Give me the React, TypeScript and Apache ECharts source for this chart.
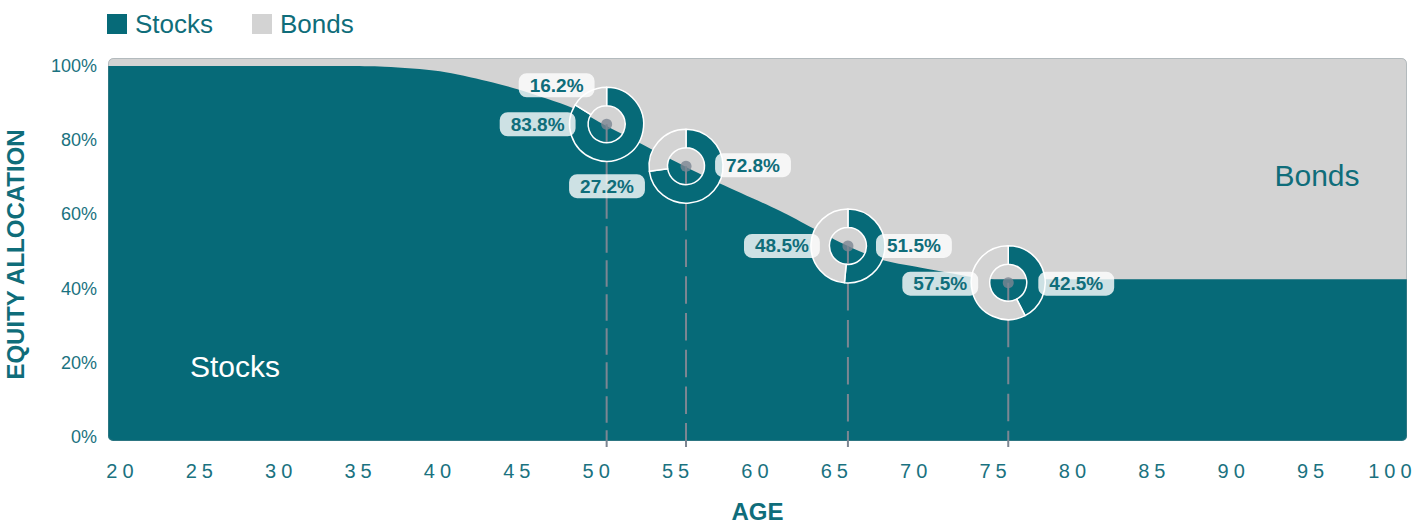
import React, { useEffect, useRef } from 'react';
import * as echarts from 'echarts';

// Glide path: age -> equity (stocks) allocation in %
const ages = [19, 20, 25, 30, 34, 36.5, 40, 43, 45, 48.4, 50.5, 53, 55.5, 57.6, 61.4, 63.5, 65.7, 67.8, 70, 72, 74.6, 76, 80, 90, 101];
const stocks = [100, 100, 100, 100, 100, 99.8, 98.6, 95.9, 93.6, 88.6, 83.8, 78.3, 72.8, 68.4, 61.0, 56.3, 51.5, 47.8, 45.9, 44.3, 42.6, 42.5, 42.5, 42.5, 42.5];
const bonds = stocks.map((s) => +(100 - s).toFixed(1));

const xTickValues = [20, 25, 30, 35, 40, 45, 50, 55, 60, 65, 70, 75, 80, 85, 90, 95, 100];
const yTickValues = [0, 20, 40, 60, 80, 100];

// Donut snapshots
const pieAges = [50.5, 55.5, 65.7, 75.8];
const pieCenterValues = [84.3, 73.0, 51.5, 41.6];
const pieStocks = [83.8, 72.8, 51.5, 42.5];
const pieBonds = [16.2, 27.2, 48.5, 57.5];
const dropLineBottom = -2.7;

// layout only (pixel offsets of the value tags from the donut centre)
const stockTagOffsets = [[-69, 0], [67, -1], [66, 0], [68, 1]];
const bondTagOffsets = [[-50, -39], [-79, 20], [-66, 0], [-68, 1]];
const dashPatterns = [[26.5, 7.5], [27.5, 9.2], [27.5, 9.5], [27.5, 9.5]];

const TEAL = '#066a78';
const GRAY = '#d3d3d3';
const TEXT = '#0f6d7a';
const AXIS_TXT = '#1a7280';
const LINE_GRAY = '#7c8692';
const FONT = 'Liberation Sans, Arial, sans-serif';

const GRID = { left: 108, top: 58, width: 1299, height: 383 };

export default function App() {
  const ref = useRef<HTMLDivElement>(null);
  useEffect(() => {
    const chart = echarts.init(ref.current!, null, { renderer: 'svg' });
    const base: any = {
      animation: false,
      textStyle: { fontFamily: FONT },
      legend: {
        data: ['Stocks', 'Bonds'],
        left: 107,
        top: 11,
        padding: 0,
        itemWidth: 20,
        itemHeight: 20,
        itemGap: 39,
        icon: 'rect',
        selectedMode: false,
        textStyle: { fontSize: 26, color: TEXT, fontFamily: FONT, padding: [0, 0, 0, 3] },
      },
      grid: {
        left: GRID.left,
        top: GRID.top,
        width: GRID.width,
        height: GRID.height,
        containLabel: false,
        outerBoundsMode: 'none',
      },
      xAxis: {
        type: 'value',
        min: 19.087,
        max: 100.92,
        name: 'AGE',
        nameLocation: 'middle',
        nameGap: 58,
        nameTextStyle: { fontSize: 24, fontWeight: 'bold', color: TEXT, fontFamily: FONT, lineHeight: 24 },
        axisLine: { show: false },
        axisTick: { show: false },
        splitLine: { show: false },
        axisLabel: {
          customValues: xTickValues,
          fontSize: 20,
          color: AXIS_TXT,
          margin: 20,
          fontFamily: 'Liberation Sans, Helvetica',
        },
      },
      yAxis: {
        type: 'value',
        min: -1.08,
        max: 102.16,
        name: 'EQUITY ALLOCATION',
        nameLocation: 'middle',
        nameGap: 81,
        nameTextStyle: { fontSize: 24, fontWeight: 'bold', color: TEXT, fontFamily: FONT, padding: [0, 10, 0, 0] },
        axisLine: { show: false },
        axisTick: { show: false },
        splitLine: { show: false },
        axisLabel: {
          customValues: yTickValues,
          formatter: (v: number) => `${v}%`,
          fontSize: 18,
          color: AXIS_TXT,
          margin: 11,
        },
      },
      series: [
        {
          // bonds occupy the share between the stock allocation and 100%
          name: 'Bonds',
          type: 'line',
          data: ages.map((a, i) => [a, stocks[i] + bonds[i]]),
          symbol: 'none',
          lineStyle: { width: 0 },
          itemStyle: { color: GRAY },
          areaStyle: { color: GRAY, opacity: 1, origin: 'start' },
          z: 1,
          silent: true,
        },
        {
          name: 'Stocks',
          type: 'line',
          data: ages.map((a, i) => [a, stocks[i]]),
          smooth: 0.3,
          symbol: 'none',
          lineStyle: { width: 0 },
          itemStyle: { color: TEAL },
          areaStyle: { color: TEAL, opacity: 1, origin: 'start' },
          z: 2,
          silent: true,
        },
      ],
    };
    chart.setOption(base);

    const centers = pieAges.map((a, i) =>
      chart.convertToPixel({ gridIndex: 0 }, [a, pieCenterValues[i]]) as number[]
    );

    const dropLines = pieAges.map((a, i) => ({
      type: 'line',
      data: [[a, pieCenterValues[i]], [a, dropLineBottom]],
      symbol: 'none',
      clip: false,
      silent: true,
      lineStyle: { color: LINE_GRAY, width: 2, type: dashPatterns[i] },
      z: 4,
    }));

    const pies = pieAges.map((_, i) => ({
      type: 'pie',
      center: centers[i],
      radius: [18.5, 37],
      startAngle: 90,
      clockwise: true,
      silent: true,
      label: { show: false },
      labelLine: { show: false },
      itemStyle: { borderColor: '#ffffff', borderWidth: 1.5 },
      emphasis: { disabled: true },
      z: 5,
      data: [
        { name: 'Stocks', value: pieStocks[i], itemStyle: { color: TEAL } },
        { name: 'Bonds', value: pieBonds[i], itemStyle: { color: GRAY } },
      ],
    }));

    const dots = {
      type: 'scatter',
      data: pieAges.map((a, i) => [a, pieCenterValues[i]]),
      symbol: 'circle',
      symbolSize: 11,
      itemStyle: { color: LINE_GRAY },
      silent: true,
      z: 6,
    };

    const tag = (x: number, y: number, v: number) => ({
      type: 'text',
      x,
      y,
      z: 10,
      silent: true,
      style: {
        text: `${v}%`,
        fill: TEXT,
        fontSize: 19,
        fontWeight: 'bold',
        fontFamily: FONT,
        align: 'center',
        verticalAlign: 'middle',
        backgroundColor: 'rgba(255,255,255,0.8)',
        padding: [3, 11, 2, 11],
        borderRadius: 8,
      },
    });

    const tags: any[] = [];
    centers.forEach((c, i) => {
      tags.push(tag(c[0] + stockTagOffsets[i][0], c[1] + stockTagOffsets[i][1], pieStocks[i]));
      tags.push(tag(c[0] + bondTagOffsets[i][0], c[1] + bondTagOffsets[i][1], pieBonds[i]));
    });

    const graphic = [
      {
        type: 'rect',
        z: 0,
        silent: true,
        shape: { x: GRID.left, y: GRID.top, width: GRID.width, height: GRID.height, r: 5 },
        style: { fill: GRAY },
      },
      {
        type: 'rect',
        z: 3,
        silent: true,
        shape: { x: GRID.left - 2, y: GRID.top - 2, width: GRID.width + 4, height: GRID.height + 4, r: 7 },
        style: { fill: 'none', stroke: '#ffffff', lineWidth: 4 },
      },
      {
        type: 'rect',
        z: 3,
        silent: true,
        shape: { x: GRID.left + 0.5, y: GRID.top + 0.5, width: GRID.width - 1, height: GRID.height - 1, r: 5 },
        style: { fill: 'none', stroke: 'rgba(120,140,150,0.35)', lineWidth: 1 },
      },
      {
        type: 'text',
        z: 3,
        silent: true,
        x: 235,
        y: 366,
        style: { text: 'Stocks', fill: '#ffffff', fontSize: 30, fontFamily: FONT, align: 'center', verticalAlign: 'middle' },
      },
      {
        type: 'text',
        z: 3,
        silent: true,
        x: 1317,
        y: 175,
        style: { text: 'Bonds', fill: TEXT, fontSize: 30, fontFamily: FONT, align: 'center', verticalAlign: 'middle' },
      },
      ...tags,
    ];

    chart.setOption({
      ...base,
      series: [...base.series, ...dropLines, ...pies, dots],
      graphic,
    }, true);

    return () => chart.dispose();
  }, []);

  return (
    <>
      <style>{'text[style*="Helvetica"]{letter-spacing:5px;}'}</style>
      <div ref={ref} style={{ position: 'fixed', left: 0, top: 0, width: 1426, height: 526, background: '#fff' }} />
    </>
  );
}
